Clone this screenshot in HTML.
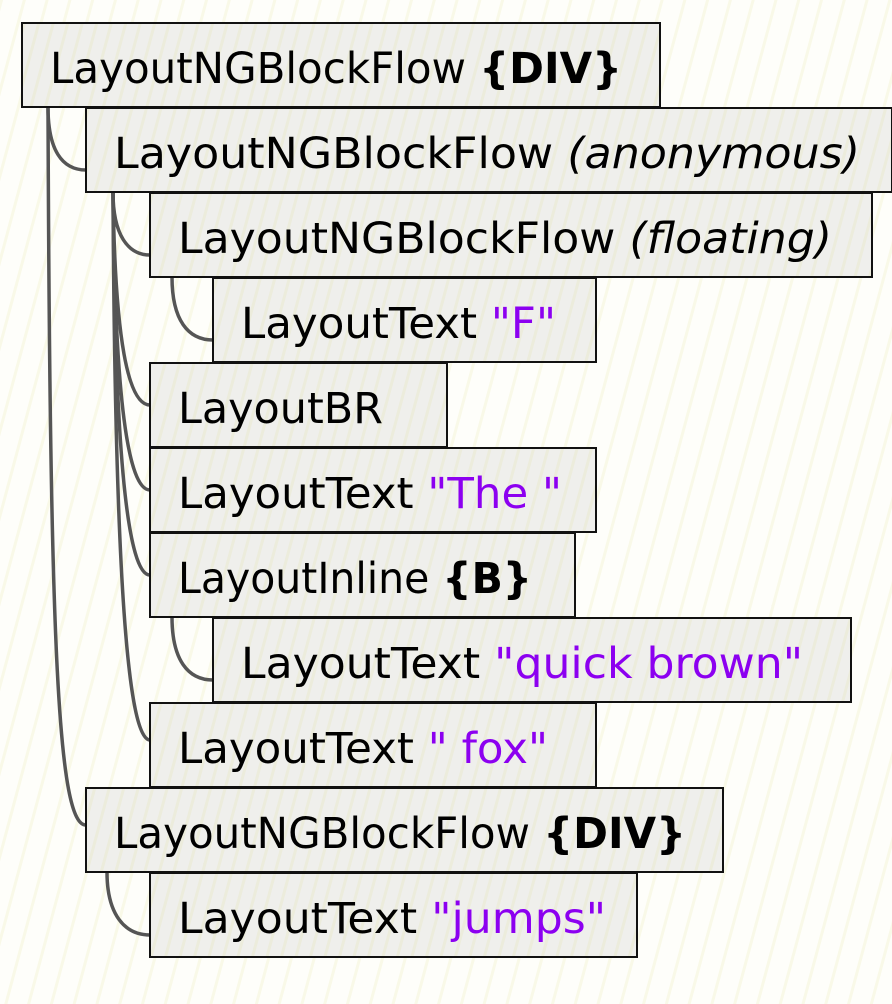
<!DOCTYPE html>
<html><head><meta charset="utf-8"><style>
html,body{margin:0;padding:0;background:#fdfdf6;}
svg{display:block;}
text{font-family:"DejaVu Sans","Liberation Sans",sans-serif;font-size:43px;fill:#000;}
.s{fill:#8c00f0;}
</style></head><body>
<svg width="892" height="1004" viewBox="0 0 892 1004" xmlns="http://www.w3.org/2000/svg">
<defs>
<pattern id="h" width="22" height="22" patternUnits="userSpaceOnUse" patternTransform="rotate(15)">
<rect width="22" height="22" fill="#fefefa"/>
<rect width="3" height="22" fill="#f9f9e8"/>
</pattern>
<pattern id="b" width="14" height="14" patternUnits="userSpaceOnUse" patternTransform="rotate(15)">
<rect width="14" height="14" fill="#efefec"/>
<rect width="3" height="14" fill="#ececdc"/>
</pattern>
</defs>
<rect width="892" height="1004" fill="url(#h)"/>
<g fill="none" stroke="#555" stroke-width="3.5" stroke-linecap="round">
<path d="M48 107 C48 150 62 170 86 170"/>
<path d="M48 107 C50 650 58 825 86 825"/>
<path d="M113 192 C113 235 128 255 150 255"/>
<path d="M113 192 C115 340 128 405 150 405"/>
<path d="M113 192 C115 400 128 490 150 490"/>
<path d="M113 192 C115 460 128 575 150 575"/>
<path d="M113 192 C115 580 128 740 150 740"/>
<path d="M172 277 C172 320 188 340 213 340"/>
<path d="M172 617 C172 660 188 680 213 680"/>
<path d="M107 872 C107 915 125 935 150 935"/>
</g>
<g fill="url(#b)" stroke="#111" stroke-width="2">
<rect x="22" y="23" width="638" height="84"/>
<rect x="86" y="108" width="806" height="84"/>
<rect x="150" y="193" width="722" height="84"/>
<rect x="213" y="278" width="383" height="84"/>
<rect x="150" y="363" width="297" height="84"/>
<rect x="150" y="448" width="446" height="84"/>
<rect x="150" y="533" width="425" height="84"/>
<rect x="213" y="618" width="638" height="84"/>
<rect x="150" y="703" width="446" height="84"/>
<rect x="86" y="788" width="637" height="84"/>
<rect x="150" y="873" width="487" height="84"/>
</g>
<text x="50" y="83" textLength="572" lengthAdjust="spacingAndGlyphs">LayoutNGBlockFlow <tspan font-weight="bold">{DIV}</tspan></text>
<text x="114" y="168" textLength="746" lengthAdjust="spacingAndGlyphs">LayoutNGBlockFlow <tspan font-style="italic">(anonymous)</tspan></text>
<text x="178" y="253" textLength="654" lengthAdjust="spacingAndGlyphs">LayoutNGBlockFlow <tspan font-style="italic">(floating)</tspan></text>
<text x="241" y="338" textLength="315" lengthAdjust="spacingAndGlyphs">LayoutText <tspan class="s">"F"</tspan></text>
<text x="178" y="423" textLength="205" lengthAdjust="spacingAndGlyphs">LayoutBR</text>
<text x="178" y="508" textLength="384" lengthAdjust="spacingAndGlyphs">LayoutText <tspan class="s">"The "</tspan></text>
<text x="178" y="593" textLength="354" lengthAdjust="spacingAndGlyphs">LayoutInline <tspan font-weight="bold">{B}</tspan></text>
<text x="241" y="678" textLength="562" lengthAdjust="spacingAndGlyphs">LayoutText <tspan class="s">"quick brown"</tspan></text>
<text x="178" y="763" textLength="370" lengthAdjust="spacingAndGlyphs">LayoutText <tspan class="s">" fox"</tspan></text>
<text x="114" y="848" textLength="572" lengthAdjust="spacingAndGlyphs">LayoutNGBlockFlow <tspan font-weight="bold">{DIV}</tspan></text>
<text x="178" y="933" textLength="428" lengthAdjust="spacingAndGlyphs">LayoutText <tspan class="s">"jumps"</tspan></text>
</svg>
</body></html>
